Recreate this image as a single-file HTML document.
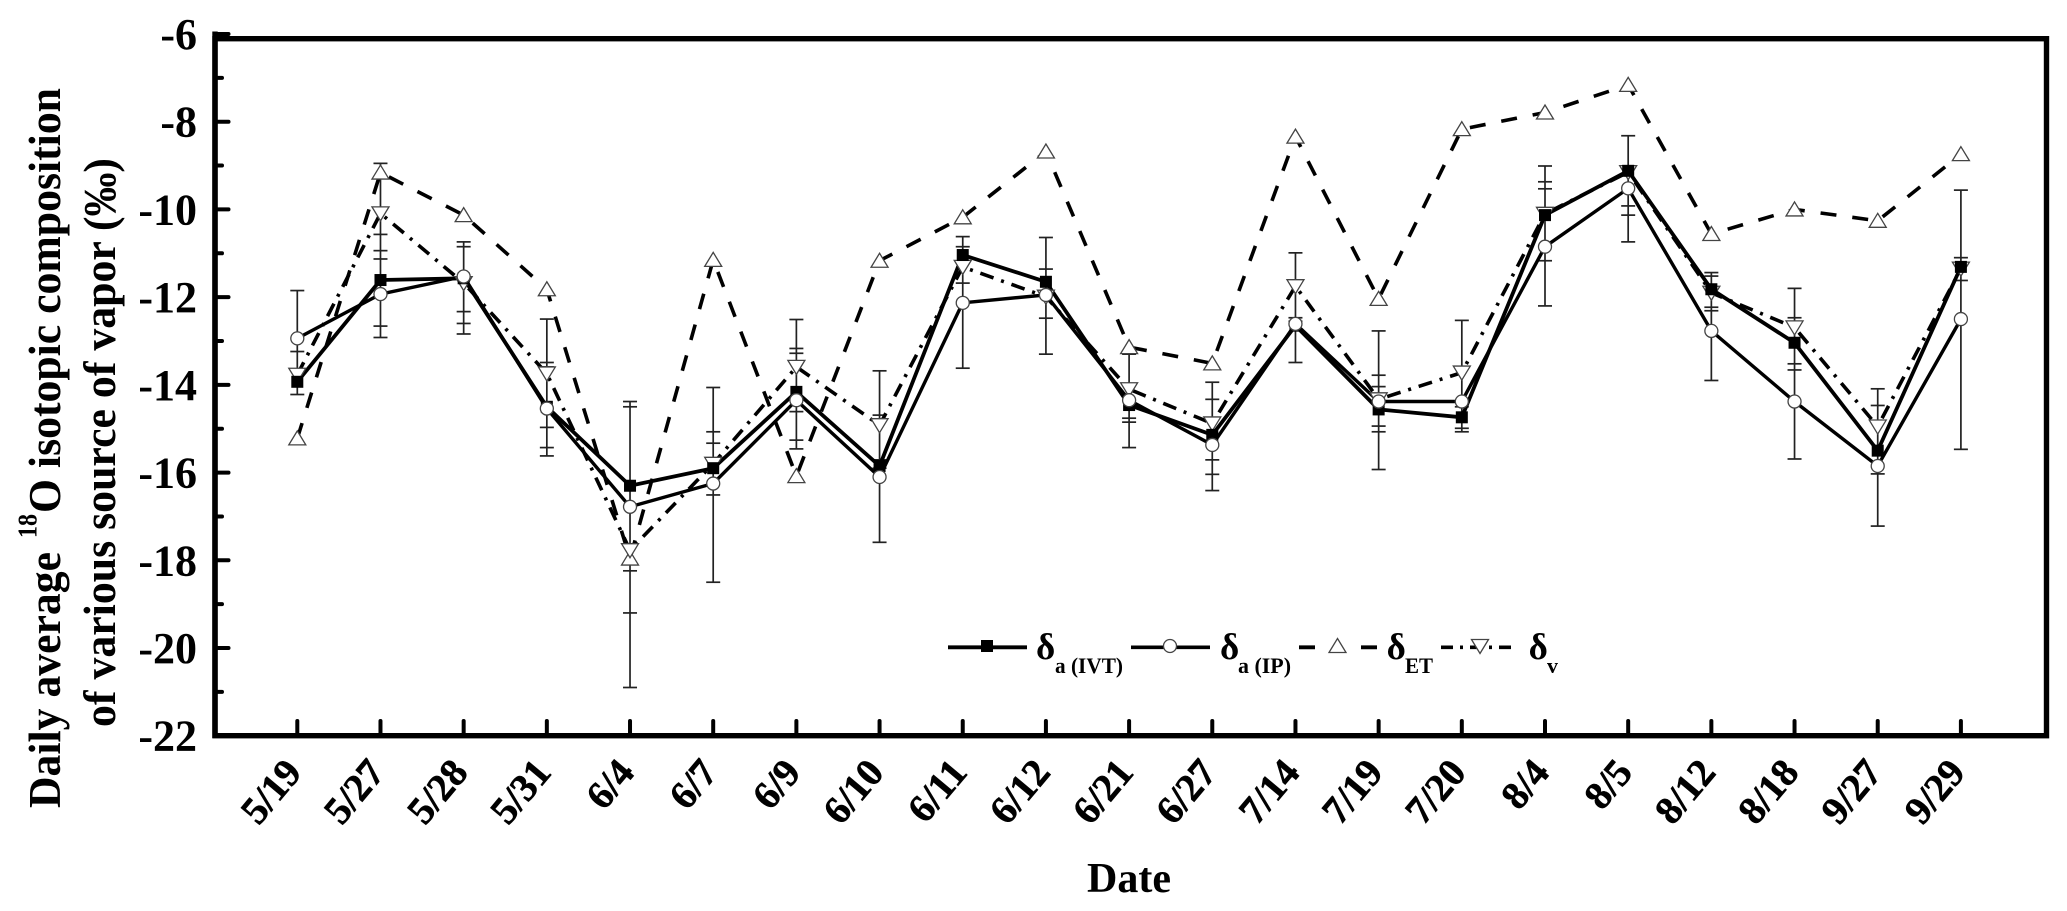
<!DOCTYPE html>
<html lang="en">
<head>
<meta charset="utf-8">
<title>Daily average 18O isotopic composition</title>
<style>
  html,body{margin:0;padding:0;background:#fff;}
  svg{display:block;}
  text{font-family:"Liberation Serif",serif;font-weight:bold;fill:#000;}
</style>
</head>
<body>
<svg id="chart" xmlns="http://www.w3.org/2000/svg" width="2067" height="911" viewBox="0 0 2067 911">
  <rect x="0" y="0" width="2067" height="911" fill="#fff"/>
  <g id="ytitle">
    <text transform="translate(60,808) rotate(-90)" font-size="46" textLength="256" lengthAdjust="spacingAndGlyphs">Daily average</text>
    <text transform="translate(36.6,538) rotate(-90)" font-size="27" textLength="24" lengthAdjust="spacingAndGlyphs">18</text>
    <text transform="translate(60,513) rotate(-90)" font-size="46" textLength="425" lengthAdjust="spacingAndGlyphs">O isotopic composition</text>
    <text transform="translate(115,727) rotate(-90)" font-size="46" textLength="569" lengthAdjust="spacingAndGlyphs">of various source of vapor (‰)</text>
  </g>
  <text x="1129" y="892" font-size="42" text-anchor="middle" textLength="84" lengthAdjust="spacingAndGlyphs">Date</text>
  <g id="bars"></g>
  <g id="series"></g>
  <g id="axes"></g>
  <g id="legend"></g>
</svg>
<script>
const categories = ["5/19","5/27","5/28","5/31","6/4","6/7","6/9","6/10","6/11","6/12","6/21","6/27","7/14","7/19","7/20","8/4","8/5","8/12","8/18","9/27","9/29"];
const yTicks = [-6,-8,-10,-12,-14,-16,-18,-20,-22];
const yMinorTicks = [-7,-9,-11,-13,-15,-17,-19,-21];
const deltaIVT = [-13.93,-11.61,-11.57,-14.5,-16.3,-15.9,-14.16,-15.85,-11.04,-11.65,-14.46,-15.14,-12.65,-14.56,-14.74,-10.13,-9.12,-11.82,-13.04,-15.5,-11.31];
const deltaIP = [-12.94,-11.93,-11.53,-14.54,-16.78,-16.25,-14.35,-16.1,-12.13,-11.95,-14.35,-15.37,-12.61,-14.38,-14.38,-10.85,-9.52,-12.77,-14.38,-15.85,-12.5];
const deltaET = [-15.22,-9.16,-10.13,-11.82,-17.96,-11.15,-16.08,-11.17,-10.18,-8.68,-13.14,-13.51,-8.34,-12.04,-8.17,-7.79,-7.16,-10.56,-10.0,-10.26,-8.74];
const deltaV = [-13.77,-10.09,-11.68,-13.74,-17.77,-15.8,-13.59,-14.92,-11.31,-11.99,-14.1,-14.88,-11.75,-14.33,-13.72,-10.1,-9.15,-11.9,-12.69,-14.95,-11.35];
const errorCaps = [
  [-11.85,-13.24,-14.22],
  [-8.95,-10.57,-10.94,-11.13,-12.66,-12.92],
  [-10.74,-10.85,-12.33,-12.6,-12.84],
  [-12.5,-13.49,-13.59,-14.97,-15.43,-15.62],
  [-14.38,-14.5,-18.24,-19.2,-20.9],
  [-14.06,-15.07,-15.33,-16.51,-18.5],
  [-12.51,-13.17,-13.28,-14.61,-15.26,-15.46],
  [-13.68,-14.69,-15.71,-15.9,-17.59],
  [-10.62,-10.85,-11.68,-13.62],
  [-10.64,-11.36,-12.48,-13.3],
  [-13.3,-14.76,-14.85,-15.43],
  [-13.94,-14.33,-15.71,-16.04,-16.41],
  [-10.99,-11.63,-12.47,-12.55,-13.49],
  [-12.77,-13.78,-14.04,-14.94,-15.07,-15.93],
  [-12.53,-13.62,-14.5,-14.99,-15.07],
  [-9.01,-9.37,-9.53,-11.17,-12.2],
  [-8.32,-9.92,-10.13,-10.74],
  [-11.44,-11.52,-12.23,-12.31,-13.9],
  [-11.8,-12.47,-13.52,-13.66,-15.69],
  [-14.09,-14.47,-16.03,-17.22],
  [-9.56,-11.1,-11.62,-15.47]
];

const NS = "http://www.w3.org/2000/svg";
function xScale(i){ return 297.3 + i * 83.18; }
function yScale(v){ return 121.7 + (-8 - v) * 43.86; }
function make(tag, parent, props){
  const el = document.createElementNS(NS, tag);
  for (const k in props) el.setAttribute(k, props[k]);
  parent.appendChild(el);
  return el;
}

/* error bars */
const bars = document.getElementById("bars");
errorCaps.forEach(function(caps, i){
  const x = xScale(i);
  const whisker = make("line", bars, {x1:x, x2:x, y1:yScale(Math.max.apply(null,caps)), y2:yScale(Math.min.apply(null,caps)), stroke:"#222", "stroke-width":1.7});
  
  
  caps.forEach(function(c){
    const cap = make("line", bars, {x1:x-7, x2:x+7, y1:yScale(c), y2:yScale(c), stroke:"#222", "stroke-width":1.7});
    
    
  });
});

/* symbols */
function drawSymbol(parent, kind, x, y){
  let el;
  if (kind === "square") {
    el = make("rect", parent, {x:x-6, y:y-6, width:12, height:12, fill:"#000"});
  } else if (kind === "circle") {
    el = make("ellipse", parent, {cx:x, cy:y, rx:6.5, ry:6.5, fill:"#fff", stroke:"#444", "stroke-width":1.3});
  } else if (kind === "up") {
    el = make("path", parent, {d:"M"+x+" "+(y-7.5)+"L"+(x+8.5)+" "+(y+6.5)+"L"+(x-8.5)+" "+(y+6.5)+"Z", fill:"#fff", stroke:"#444", "stroke-width":1.3});
  } else {
    el = make("path", parent, {d:"M"+x+" "+(y+7.5)+"L"+(x+8.5)+" "+(y-6.5)+"L"+(x-8.5)+" "+(y-6.5)+"Z", fill:"#fff", stroke:"#444", "stroke-width":1.3});
  }
  return el;
}

/* series */
const seriesLayer = document.getElementById("series");
const seriesList = [
  {key:"et", values:deltaET, kind:"up", dash:"16 16", width:3.6},
  {key:"v", values:deltaV, kind:"down", dash:"14 8 3 8", width:3.6},
  {key:"ivt", values:deltaIVT, kind:"square", dash:"", width:3.8},
  {key:"ip", values:deltaIP, kind:"circle", dash:"", width:3.4}
];
seriesList.forEach(function(s){
  const pts = s.values.map(function(v,i){ return xScale(i).toFixed(1)+","+yScale(v).toFixed(1); }).join(" ");
  const line = make("polyline", seriesLayer, {points:pts, fill:"none", stroke:"#000", "stroke-width":s.width, "stroke-linejoin":"miter", "stroke-dasharray":s.dash});
  
  
});
seriesList.forEach(function(s){
  s.values.forEach(function(v,i){
    const mark = drawSymbol(seriesLayer, s.kind, xScale(i), yScale(v));
    
    
  });
});

/* axes */
const axes = document.getElementById("axes");
const frame = make("rect", axes, {x:215, y:38.7, width:1831.5, height:697, fill:"none", stroke:"#000", "stroke-width":5.4});


const spine = make("line", axes, {x1:215, x2:215, y1:31.5, y2:738, stroke:"#000", "stroke-width":5.4});



yTicks.forEach(function(v){
  const y = yScale(v);
  const tick = make("line", axes, {x1:215, x2:228.5, y1:y, y2:y, stroke:"#000", "stroke-width":4, "stroke-linecap":"round"});
  
  
  const label = make("text", axes, {x:197, y:y+15, "font-size":44, "text-anchor":"end"});
  label.textContent = String(v);
  
  
});
yMinorTicks.forEach(function(v){
  const y = yScale(v);
  const tick = make("line", axes, {x1:215, x2:222, y1:y, y2:y, stroke:"#000", "stroke-width":4, "stroke-linecap":"round"});
  
  
});
categories.forEach(function(c,i){
  const x = xScale(i);
  const tick = make("line", axes, {x1:x, x2:x, y1:735, y2:721, stroke:"#000", "stroke-width":4, "stroke-linecap":"round"});
  
  
  const label = make("text", axes, {transform:"translate("+(x-4)+",765) rotate(-50)", "font-size":39, "text-anchor":"end", dy:"0.33em", stroke:"#000", "stroke-width":0.6});
  label.textContent = c;
  
  
});

/* legend */
const legend = document.getElementById("legend");
const legendEntries = [
  {sym:"square", x1:948, x2:1027, sx:987, dash:"", w:3.8, dx:1036, sub:"a (IVT)", subx:1055, subw:68, key:"ivt"},
  {sym:"circle", x1:1131, x2:1210, sx:1170, dash:"", w:3.6, dx:1220, sub:"a (IP)", subx:1238, subw:53, key:"ip"},
  {sym:"up", x1:1299, x2:1377, sx:1337.5, dash:"16 46 16", w:3.8, dx:1386.6, sub:"ET", subx:1405, subw:28, key:"et"},
  {sym:"down", x1:1441, x2:1511, sx:1480, dash:"12 7 3 7 12 7 3 7 12", w:3.6, dx:1528.6, sub:"v", subx:1547, subw:11, key:"v"}
];
legendEntries.forEach(function(e){
  const ln = make("line", legend, {x1:e.x1, x2:e.x2, y1:647.3, y2:647.3, stroke:"#000", "stroke-width":e.w, "stroke-dasharray":e.dash});
  
  
  const sy = drawSymbol(legend, e.sym, e.sx, 646);
  
  
  const d = make("text", legend, {x:e.dx, y:659, "font-size":37});
  d.textContent = "δ";
  
  
  const sub = make("text", legend, {x:e.subx, y:673, "font-size":22, textLength:e.subw, lengthAdjust:"spacingAndGlyphs"});
  sub.textContent = e.sub;
  
  
});
</script>
</body>
</html>
